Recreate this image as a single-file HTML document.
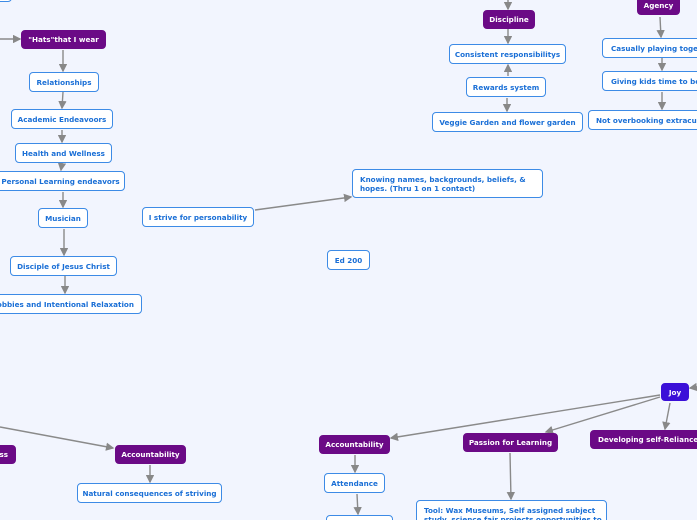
<!DOCTYPE html>
<html><head><meta charset="utf-8"><style>
html,body{margin:0;width:697px;height:520px;overflow:hidden;}
body{background:#f2f5fe;position:relative;font-family:"DejaVu Sans","Liberation Sans",sans-serif;}
.n{position:absolute;box-sizing:border-box;border:1.3px solid #3d8be6;background:#fff;border-radius:4px;color:#1a6fd6;font-weight:bold;font-size:7.2px;display:flex;align-items:center;justify-content:center;white-space:nowrap;overflow:hidden;}
.p{background:#6b0a86;border-color:#6b0a86;color:#fff;}
.j{background:#3b10d8;border-color:#3b10d8;color:#fff;}
.l{justify-content:flex-start;padding-left:7px;white-space:normal;line-height:9px;align-items:flex-start;padding-top:5px;}
svg{position:absolute;left:0;top:0}
</style></head><body>
<svg width="697" height="520">
<defs><marker id="a" markerWidth="6" markerHeight="6" refX="5" refY="3" orient="auto"><path d="M0,0 L6,3 L0,6z" fill="#888"/></marker></defs>
<g stroke="#8a8a8a" stroke-width="1.4" fill="none" marker-end="url(#a)">
<line x1="0" y1="39" x2="20" y2="39"/>
<line x1="63" y1="50" x2="63" y2="71"/>
<line x1="63" y1="92" x2="62" y2="108"/>
<line x1="62" y1="130" x2="62" y2="142"/>
<line x1="62" y1="163" x2="61" y2="170"/>
<line x1="63" y1="192" x2="63" y2="207"/>
<line x1="64" y1="229" x2="64" y2="255"/>
<line x1="65" y1="276" x2="65" y2="293"/>
<line x1="255" y1="210" x2="351" y2="197"/>
<line x1="508" y1="0" x2="508" y2="9"/>
<line x1="508" y1="29" x2="508" y2="43"/>
<line x1="508" y1="76" x2="508" y2="65"/>
<line x1="507" y1="98" x2="507" y2="111"/>
<line x1="660" y1="17" x2="661" y2="37"/>
<line x1="662" y1="58" x2="662" y2="70"/>
<line x1="662" y1="92" x2="662" y2="109"/>
<line x1="697" y1="387" x2="690" y2="388"/>
<line x1="660" y1="395" x2="391" y2="438"/>
<line x1="660" y1="397" x2="546" y2="432"/>
<line x1="670" y1="403" x2="665" y2="429"/>
<line x1="355" y1="455" x2="355" y2="472"/>
<line x1="357" y1="494" x2="358" y2="514"/>
<line x1="510" y1="453" x2="511" y2="499"/>
<line x1="0" y1="427" x2="113" y2="448"/>
<line x1="150" y1="465" x2="150" y2="482"/>
</g></svg>
<div class="n" style="left:-4px;top:-6px;width:16px;height:8px"></div>
<div class="n p" style="left:21px;top:30px;width:85px;height:19px">"Hats"that I wear</div>
<div class="n" style="left:29px;top:72px;width:70px;height:20px">Relationships</div>
<div class="n" style="left:11px;top:109px;width:102px;height:20px">Academic Endeavoors</div>
<div class="n" style="left:15px;top:143px;width:97px;height:20px">Health and Wellness</div>
<div class="n" style="left:-4px;top:171px;width:129px;height:20px">Personal Learning endeavors</div>
<div class="n" style="left:38px;top:208px;width:50px;height:20px">Musician</div>
<div class="n" style="left:10px;top:256px;width:107px;height:20px">Disciple of Jesus Christ</div>
<div class="n" style="left:-20px;top:294px;width:162px;height:20px;justify-content:flex-end;padding-right:7px">Hobbies and Intentional Relaxation</div>
<div class="n" style="left:142px;top:207px;width:112px;height:20px">I strive for personability</div>
<div class="n l" style="left:352px;top:169px;width:191px;height:29px">Knowing names, backgrounds, beliefs, &amp; hopes. (Thru 1 on 1 contact)</div>
<div class="n" style="left:327px;top:250px;width:43px;height:20px">Ed 200</div>
<div class="n p" style="left:483px;top:10px;width:52px;height:19px">Discipline</div>
<div class="n" style="left:449px;top:44px;width:117px;height:20px">Consistent responsibilitys</div>
<div class="n" style="left:466px;top:77px;width:80px;height:20px">Rewards system</div>
<div class="n" style="left:432px;top:112px;width:151px;height:20px">Veggie Garden  and flower garden</div>
<div class="n p" style="left:637px;top:-4px;width:43px;height:19px">Agency</div>
<div class="n" style="left:602px;top:38px;width:110px;height:20px;justify-content:flex-start;padding-left:8px">Casually playing together</div>
<div class="n" style="left:602px;top:71px;width:110px;height:20px;justify-content:flex-start;padding-left:8px">Giving kids time to be kids</div>
<div class="n" style="left:588px;top:110px;width:130px;height:20px;justify-content:flex-start;padding-left:7px">Not overbooking extracurriculars</div>
<div class="n j" style="left:661px;top:383px;width:28px;height:18px">Joy</div>
<div class="n p" style="left:319px;top:435px;width:71px;height:19px">Accountability</div>
<div class="n p" style="left:463px;top:433px;width:95px;height:19px">Passion for Learning</div>
<div class="n p" style="left:590px;top:430px;width:120px;height:19px;justify-content:flex-start;padding-left:7px">Developing self-Reliance</div>
<div class="n" style="left:324px;top:473px;width:61px;height:20px">Attendance</div>
<div class="n" style="left:326px;top:515px;width:67px;height:20px"></div>
<div class="n l" style="left:416px;top:500px;width:191px;height:30px">Tool: Wax Museums, Self assigned subject study, science fair projects opportunities to</div>
<div class="n p" style="left:-30px;top:445px;width:46px;height:19px;justify-content:flex-end;padding-right:7px">ss</div>
<div class="n p" style="left:115px;top:445px;width:71px;height:19px">Accountability</div>
<div class="n" style="left:77px;top:483px;width:145px;height:20px">Natural consequences of striving</div>
</body></html>
